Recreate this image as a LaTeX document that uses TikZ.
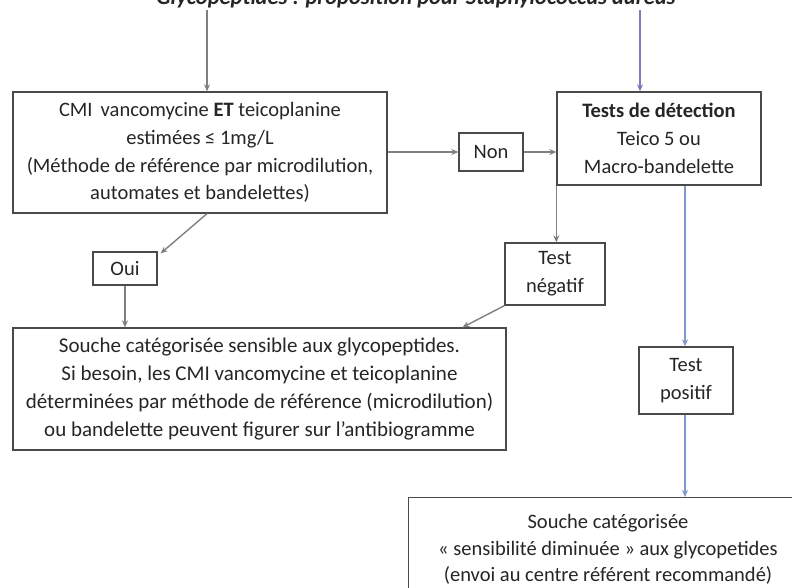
\documentclass[tikz,border=0pt]{standalone}
\usepackage{fontspec}
\setmainfont{Carlito}
\usetikzlibrary{arrows.meta}
\definecolor{boxline}{HTML}{4A4A4A}
\definecolor{greyarrow}{HTML}{808080}
\definecolor{bluearrow}{HTML}{7F98CC}
\definecolor{violetarrow}{HTML}{7C7CB8}
\definecolor{txt}{HTML}{262626}
\tikzset{
  box/.style={draw=boxline, line width=1.3pt, rectangle, inner sep=0pt, align=center, text=txt},
  conn/.style={draw=greyarrow, line width=1.4pt, -{Stealth[length=7pt,width=6pt]}},
  connblue/.style={draw=bluearrow, line width=1.4pt, -{Stealth[length=7pt,width=6pt]}},
}
\begin{document}
\begin{tikzpicture}[x=1pt,y=-1pt, every node/.style={font=\fontsize{20.5}{27.8}\selectfont}]
\useasboundingbox[fill=white] (0,0) rectangle (792,587);
\node[anchor=base, text=txt, font=\fontsize{22.5}{26}\selectfont\bfseries\itshape] (title) at (416,4.5) {Glycopeptides : proposition pour Staphylococcus aureus};
\coordinate (tl) at (207,10);
\coordinate (tr) at (640,10);
\coordinate (px) at (685,0);

\node[box, minimum width=374pt, minimum height=121pt] (cmi) at (200,152.5)
  {CMI\, vancomycine \textbf{ET} teicoplanine\\ estimées ≤ 1mg/L\\ (Méthode de référence par microdilution,\\ automates et bandelettes)};
\node[box, minimum width=204pt, minimum height=93pt] (tests) at (659,138.5)
  {\textbf{Tests de détection}\\ Teico 5 ou\\ Macro-bandelette};
\node[box, minimum width=64pt, minimum height=38pt] (non) at (491,152) {Non};
\node[box, minimum width=64pt, minimum height=33pt] (oui) at (125,268.5) {Oui};
\node[box, minimum width=100pt, minimum height=62pt] (neg) at (555,274) {Test\\ négatif};
\node[box, minimum width=94pt, minimum height=67pt] (pos) at (686,380.5) {Test\\ positif};
\node[box, minimum width=493pt, minimum height=122pt, font=\fontsize{21}{27.8}\selectfont] (sens) at (259.5,389)
  {Souche catégorisée sensible aux glycopeptides.\\ Si besoin, les CMI vancomycine et teicoplanine\\ déterminées par méthode de référence (microdilution)\\ ou bandelette peuvent figurer sur l’antibiogramme};
\node[box, minimum width=404pt, minimum height=110pt, anchor=north west] (dim) at (408,497) {};
\node[anchor=base, text=txt] (dim1) at (608,528) {Souche catégorisée};
\node[anchor=base, text=txt] (dim2) at (608,555.5) {« sensibilité diminuée » aux glycopetides};
\node[anchor=base, text=txt] (dim3) at (608,581.5) {(envoi au centre référent recommandé)};

\draw[conn] (tl) -- ([xshift=7pt]cmi.north);
\draw[draw=violetarrow, line width=1.4pt, -{Stealth[length=7pt,width=6pt]}] (tr) -- (tests.north -| tr);
\draw[conn] (cmi.east |- non.west) -- (non.west);
\draw[conn] (non.east) -- (tests.west |- non.east);
\draw[conn] ([xshift=7pt]cmi.south) -- ([xshift=3pt,yshift=-2pt]oui.north east);
\draw[conn] (oui.south) -- (sens.north -| oui.south);
\draw[conn] (tests.south west) -- (neg.north -| tests.south west);
\draw[conn] (neg.south west) -- ([xshift=203pt]sens.north);
\draw[connblue] (tests.south -| px) -- (pos.north -| px);
\draw[connblue] (pos.south -| px) -- (dim.north -| px);
\end{tikzpicture}
\end{document}
